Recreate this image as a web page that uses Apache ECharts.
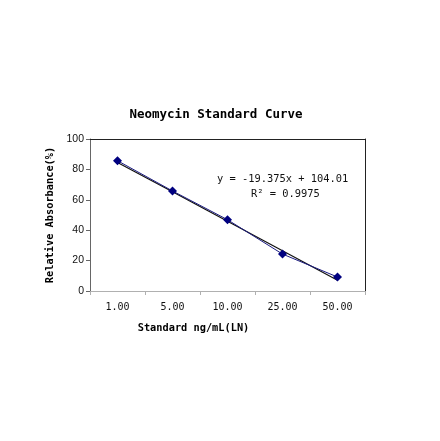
<!DOCTYPE html>
<html>
<head>
<meta charset="utf-8">
<script src="https://cdn.jsdelivr.net/npm/echarts@6/dist/echarts.min.js"></script>
<style>
  html, body { margin: 0; padding: 0; background: #fff; }
  #chart { width: 440px; height: 441px; }
</style>
</head>
<body>
<div id="chart"></div>
<script>
// standards (ng/mL) and measured relative absorbance
const standards = ['1.00', '5.00', '10.00', '25.00', '50.00'];
const absorbance = [85.7, 65.8, 46.9, 24.3, 9.2];
// linear trendline y = -19.375x + 104.01 evaluated at x = 1..5
const trendline = [84.6, 65.3, 45.9, 26.5, 7.1];
const equationText = 'y = -19.375x + 104.01';
const r2Text = 'R\u00b2 = 0.9975';

const mono = '"DejaVu Sans Mono", "Liberation Mono", monospace';

const chart = echarts.init(document.getElementById('chart'));

const option = {
    backgroundColor: '#fff',
    animation: false,
    title: {
        text: 'Neomycin Standard Curve',
        left: 211,
        textAlign: 'center',
        top: 103,
        textStyle: { fontFamily: mono, fontSize: 12.5, fontWeight: 'bold', color: '#000' }
    },
    grid: { left: 90, top: 139, right: 75, bottom: 150 },
    xAxis: [{
        type: 'category',
        data: standards,
        boundaryGap: true,
        name: 'Standard ng/mL(LN)',
        nameLocation: 'middle',
        nameGap: 32,
        nameTextStyle: { fontFamily: mono, fontSize: 10.3, fontWeight: 'bold', color: '#000', padding: [0, 68, 0, 0] },
        axisLine: { onZero: false, lineStyle: { color: '#b0b0b0', width: 1 } },
        axisTick: { show: true, inside: false, length: 4, alignWithLabel: false, lineStyle: { color: '#b0b0b0' } },
        axisLabel: { fontFamily: mono, fontSize: 10, color: '#111', margin: 11 },
        splitLine: { show: false }
    }, {
        type: 'category',
        data: standards,
        position: 'top',
        axisLine: { show: true, onZero: false, lineStyle: { color: '#222', width: 1 } },
        axisTick: { show: false },
        axisLabel: { show: false }
    }],
    yAxis: [{
        type: 'value',
        min: 0,
        max: 100,
        interval: 20,
        name: 'Relative Absorbance(%)',
        nameLocation: 'middle',
        nameGap: 28,
        nameTextStyle: { fontFamily: mono, fontSize: 10.3, fontWeight: 'bold', color: '#000' },
        axisLine: { show: true, onZero: false, lineStyle: { color: '#666', width: 1 } },
        axisTick: { show: true, inside: false, length: 4, lineStyle: { color: '#666' } },
        axisLabel: { fontFamily: '"Liberation Sans", Arial, sans-serif', fontSize: 10.5, color: '#111', margin: 6 },
        splitLine: { show: false }
    }, {
        type: 'value',
        min: 0,
        max: 100,
        interval: 20,
        position: 'right',
        axisLine: { show: true, onZero: false, lineStyle: { color: '#222', width: 1 } },
        axisTick: { show: false },
        axisLabel: { show: false },
        splitLine: { show: false }
    }],
    series: [{
        name: 'Absorbance',
        type: 'line',
        data: absorbance,
        symbol: 'diamond',
        symbolSize: 9,
        itemStyle: { color: '#000080' },
        lineStyle: { color: '#1a1a80', width: 1 },
        z: 3
    }, {
        name: 'Linear',
        type: 'line',
        data: trendline,
        symbol: 'none',
        lineStyle: { color: '#111', width: 1.2 },
        z: 2
    }],
    graphic: [{
        type: 'text',
        left: 217,
        top: 174,
        style: { text: equationText, font: '10.4px ' + mono, fill: '#111' }
    }, {
        type: 'text',
        left: 251,
        top: 189,
        style: { text: r2Text, font: '10.4px ' + mono, fill: '#111' }
    }]
};

chart.setOption(option);

window.addEventListener('resize', function() {
    chart.resize();
});
</script>
</body>
</html>
